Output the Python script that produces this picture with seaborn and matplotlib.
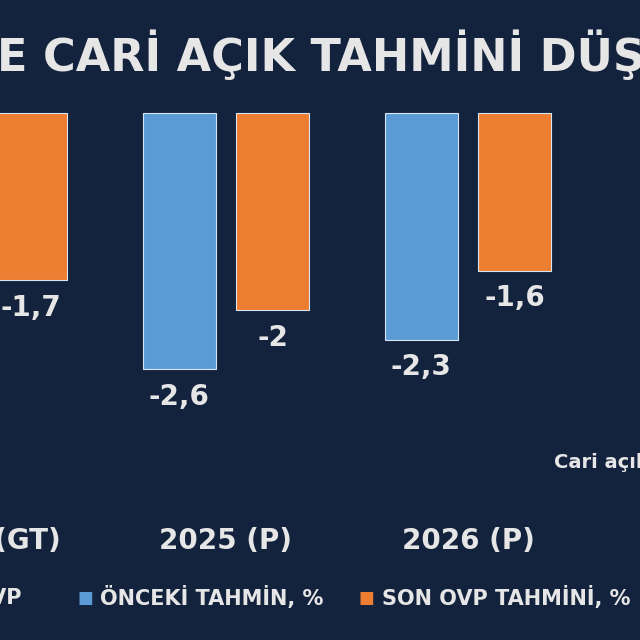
import numpy as np
import pandas as pd
import matplotlib.pyplot as plt
import seaborn as sns

# Veriler
years = ['2024 (GT)', '2025 (P)', '2026 (P)', '2027 (P)']
onceki = [-2.2, -2.6, -2.3, np.nan]
son_ovp = [-1.7, -2.0, -1.6, np.nan]
labels_onceki = ['-2,2', '-2,6', '-2,3', '']
labels_son = ['-1,7', '-2', '-1,6', '']
series = ['ÖNCEKİ TAHMİN, %', 'SON OVP TAHMİNİ, %']

bg = '#14233d'
txt = '#e6e6e6'
colors = ['#5b9bd5', '#ed7d31']

df = pd.DataFrame({
    'Yil': years * 2,
    'Deger': onceki + son_ovp,
    'Seri': [series[0]] * 4 + [series[1]] * 4,
})

fig = plt.figure(figsize=(6.4, 6.4), dpi=100, facecolor=bg)
ax = fig.add_axes([0, 0, 1, 1])
ax.set_facecolor(bg)

sns.barplot(data=df, x='Yil', y='Deger', hue='Seri', palette=colors,
            width=0.77, gap=0.22, ax=ax, legend=False, errorbar=None,
            saturation=1, edgecolor='#d6e6f5', linewidth=0.8)

ax.set_xlim(0.066, 2.711)
ax.set_ylim(-5.35, 1.147)
ax.axis('off')

# Değer etiketleri
for i, cont in enumerate(ax.containers):
    labs = labels_onceki if i == 0 else labels_son
    for bar, lab in zip(cont, labs):
        if not lab:
            continue
        x = bar.get_x() + bar.get_width() / 2
        ax.text(x, bar.get_height() - 0.28, lab, ha='center', va='center',
                color=txt, fontsize=20, fontweight='bold')

# X etiketleri
for i, y in enumerate(years):
    ax.text(i, -4.35, y, ha='center', va='center', color=txt,
            fontsize=20, fontweight='bold')

# Başlık
fig.text(-0.005, 0.915, 'E CARİ AÇIK TAHMİNİ DÜŞÜRÜLDÜ', ha='left', va='center',
         color=txt, fontsize=32, fontweight='bold')

# Not
fig.text(0.865, 0.278, 'Cari açık / GSYH', ha='left', va='center',
         color=txt, fontsize=14, fontweight='bold')

# Açıklama (legend)
fig.text(0.034, 0.066, 'OVP', ha='right', va='center', color=txt,
         fontsize=15, fontweight='bold')
fig.text(0.134, 0.066, '■', ha='center', va='center', color=colors[0], fontsize=12)
fig.text(0.157, 0.066, series[0], ha='left', va='center', color=txt,
         fontsize=15, fontweight='bold')
fig.text(0.572, 0.066, '■', ha='center', va='center', color=colors[1], fontsize=12)
fig.text(0.597, 0.066, series[1], ha='left', va='center', color=txt,
         fontsize=15, fontweight='bold')

fig.savefig('out.png', dpi=100, facecolor=bg)
